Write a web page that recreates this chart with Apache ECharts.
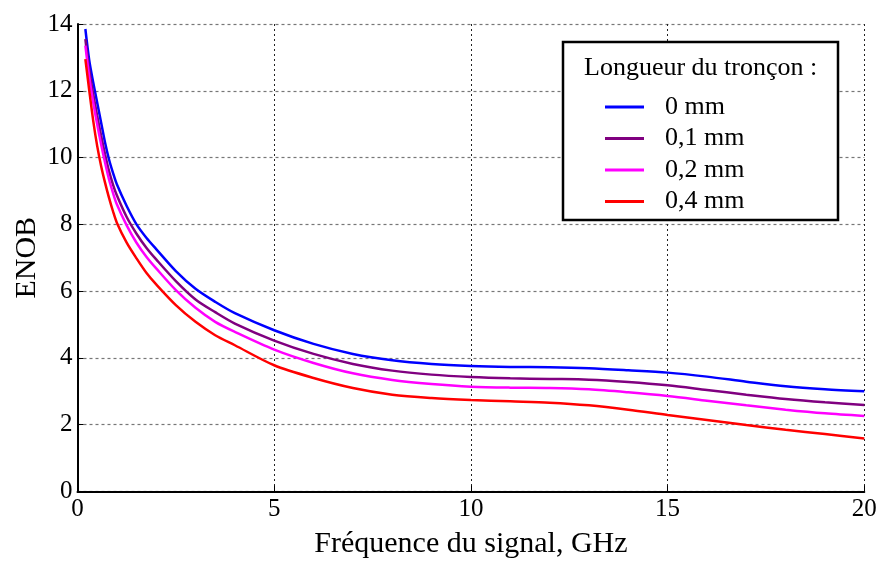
<!DOCTYPE html>
<html>
<head>
<meta charset="utf-8">
<script src="https://cdn.jsdelivr.net/npm/echarts@6/dist/echarts.min.js"></script>
<style>html,body{margin:0;padding:0;background:#fff}#c{width:877px;height:561px}</style>
</head>
<body>
<div id="c"></div>
<script>
const freq = [0.2,0.3,0.4,0.5,0.6,0.7,0.8,0.9,1,1.25,1.5,1.75,2,2.5,3,3.5,4,5,6,7,8,9,10,11,12,13,14,15,16,17,18,19,20];
const enob0  = [13.85,12.9,12.25,11.65,11.05,10.45,9.95,9.55,9.2,8.55,8.0,7.6,7.26,6.6,6.07,5.68,5.34,4.83,4.42,4.12,3.93,3.82,3.76,3.73,3.72,3.69,3.63,3.56,3.44,3.29,3.15,3.06,3.0];
const enob01 = [13.55,12.6,11.9,11.25,10.65,10.1,9.6,9.2,8.87,8.22,7.72,7.3,6.95,6.3,5.75,5.37,5.03,4.52,4.12,3.82,3.62,3.5,3.43,3.39,3.37,3.35,3.28,3.18,3.04,2.9,2.77,2.67,2.59];
const enob02 = [13.35,12.4,11.65,11.0,10.4,9.85,9.35,8.95,8.6,7.97,7.45,7.03,6.68,6.03,5.5,5.08,4.78,4.25,3.85,3.54,3.34,3.22,3.14,3.11,3.1,3.06,2.97,2.86,2.72,2.58,2.45,2.34,2.26];
const enob04 = [12.95,12.0,11.1,10.35,9.75,9.25,8.8,8.4,8.05,7.45,6.98,6.55,6.2,5.58,5.08,4.68,4.38,3.78,3.4,3.1,2.9,2.8,2.74,2.7,2.66,2.58,2.45,2.29,2.14,1.99,1.85,1.72,1.59];
const seriesNames = ['0 mm','0,1 mm','0,2 mm','0,4 mm'];
const seriesColors = ['#0000ff','#800080','#ff00ff','#ff0000'];
const xTitle = 'Fréquence du signal, GHz';
const yTitle = 'ENOB';
const legendTitle = 'Longueur du tronçon :';

const allData = [enob0, enob01, enob02, enob04];
const font = '"Liberation Serif", "Times New Roman", serif';
const chart = echarts.init(document.getElementById('c'), null, {renderer:'canvas'});
chart.setOption({
  animation:false,
  backgroundColor:'#fff',
  grid:{left:77.5, right:12.7, top:24, bottom:69.5, containLabel:false, outerBoundsMode:'none'},
  xAxis:{
    type:'value', min:0, max:20, interval:5,
    name:xTitle, nameLocation:'middle', nameGap:38,
    nameTextStyle:{fontFamily:font, fontSize:30, color:'#000'},
    axisLine:{show:true, onZero:false, lineStyle:{color:'#000', width:2}},
    axisTick:{show:true, inside:true, length:6, lineStyle:{color:'#000', width:1}},
    axisLabel:{fontFamily:font, fontSize:25, color:'#000', margin:5},
    splitLine:{show:true, lineStyle:{color:'#222', type:[2,3], width:1}}
  },
  yAxis:{
    type:'value', min:0, max:14, interval:2,
    name:yTitle, nameLocation:'middle', nameGap:35, nameMoveOverlap:false,
    nameTextStyle:{fontFamily:font, fontSize:30, color:'#000'},
    axisLine:{show:true, onZero:false, lineStyle:{color:'#000', width:2}},
    axisTick:{show:true, inside:true, length:6, lineStyle:{color:'#000', width:1}},
    axisLabel:{fontFamily:font, fontSize:25, color:'#000', margin:5},
    splitLine:{show:true, lineStyle:{color:'#777', type:[3,3], width:1.2}}
  },
  legend:{
    orient:'vertical', left:600, top:89,
    itemWidth:39, itemHeight:3, itemGap:5.5, icon:'rect',
    textStyle:{fontFamily:font, fontSize:26, color:'#000', lineHeight:26, padding:[0,0,0,16]},
    data:seriesNames
  },
  graphic:[
    {type:'rect', z:3, shape:{x:563, y:42, width:275, height:178}, style:{fill:'#fff', stroke:'#000', lineWidth:2.5}},
    {type:'text', z:5, x:584, y:68, style:{text:legendTitle, font:'26px '+font, fill:'#000', verticalAlign:'middle'}}
  ],
  series: allData.map((d,i)=>({
    name:seriesNames[i], type:'line', smooth:0.3, showSymbol:false, z:5,
    lineStyle:{color:seriesColors[i], width:2.5},
    itemStyle:{color:seriesColors[i]},
    data: freq.map((f,j)=>[f,d[j]])
  }))
});
</script>
</body>
</html>
